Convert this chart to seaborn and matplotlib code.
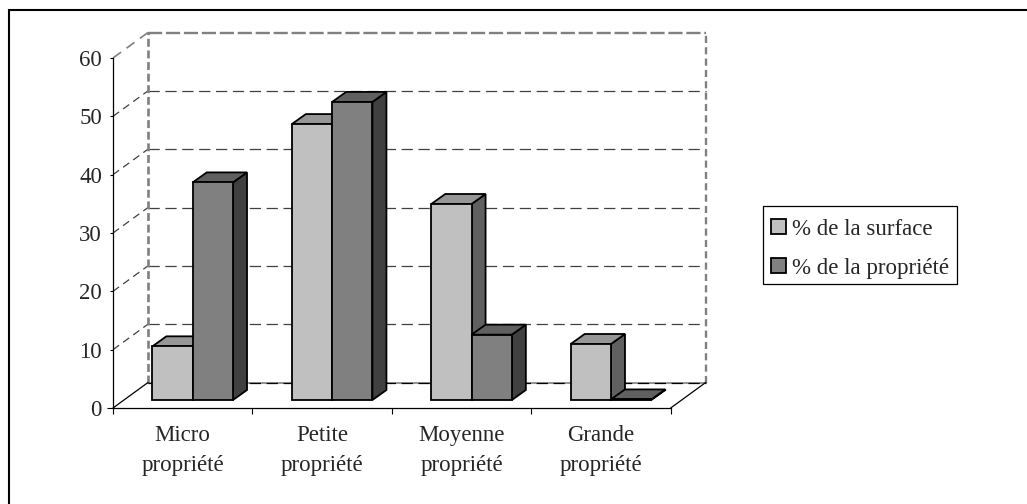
import matplotlib
matplotlib.use("Agg")
import matplotlib.pyplot as plt
from matplotlib.lines import Line2D
from matplotlib.patches import Polygon, Rectangle
import pandas as pd
import seaborn as sns

# Data
categories = ["Micro\npropriété", "Petite\npropriété", "Moyenne\npropriété", "Grande\npropriété"]
surface = [9.2, 47.3, 33.6, 9.6]
propriete = [37.3, 51.1, 11.2, 0.1]
series_names = ["% de la surface", "% de la propriété"]
y_ticks = [0, 10, 20, 30, 40, 50, 60]

W, H = 1027, 504
LEFT, RIGHT, BASE, TOP = 113, 670.7, 408, 58
FONT = 16.5
EDGE = 1.3

sns.set_style("white")
plt.rcParams["font.family"] = ["Liberation Serif", "DejaVu Serif"]
plt.rcParams["font.size"] = FONT

df = pd.DataFrame({
    "cat": categories * 2,
    "val": surface + propriete,
    "serie": [series_names[0]] * 4 + [series_names[1]] * 4,
})

fig = plt.figure(figsize=(W / 100, H / 100), dpi=100, facecolor="white")
ax = fig.add_axes([LEFT / W, (H - BASE) / H, (RIGHT - LEFT) / W, (BASE - TOP) / H])

sns.barplot(data=df, x="cat", y="val", hue="serie", palette=["#C0C0C0", "#808080"],
            width=0.578, gap=0, edgecolor="black", linewidth=EDGE, saturation=1,
            errorbar=None, ax=ax)

ax.set_xlim(-0.5, 3.5)
ax.set_ylim(0, 60)
ax.set_xlabel("")
ax.set_ylabel("")

# pixel sizes expressed in data units
px = 4 / (RIGHT - LEFT)
py = 60 / (BASE - TOP)
wall_dx, wall_dy = 35 * px, 25.5 * py
shift_x, shift_y = 10 * px, 8 * py
depth_x, depth_y = 14 * px, 10 * py

# back wall, grid lines and side wall dashes
x0, x1 = -0.5 + wall_dx, 3.5 + wall_dx
grid_dash = (0, (9, 4.5))
side_dash = (0, (6, 4))
for t in y_ticks[1:-1]:
    ax.plot([x0, x1], [t + wall_dy] * 2, color="#404040", lw=0.9, ls=grid_dash, zorder=1, clip_on=False)
    ax.plot([-0.5, x0], [t, t + wall_dy], color="#404040", lw=0.9, ls=side_dash, zorder=1, clip_on=False)
ax.plot([-0.5, x0], [60, 60 + wall_dy], color="#808080", lw=1.2, ls=side_dash, zorder=1, clip_on=False)
ax.plot([x0, x1], [60 + wall_dy] * 2, color="#808080", lw=1.7, ls=(0, (6, 1.6)), zorder=1, clip_on=False)
ax.plot([x0, x0], [wall_dy, 60 + wall_dy], color="#808080", lw=1.9, ls=(0, (3, 1.4)), zorder=1, clip_on=False)
ax.plot([x1, x1], [wall_dy, 60 + wall_dy], color="#808080", lw=1.7, ls=(0, (3, 1.8)), zorder=1, clip_on=False)

# floor
ax.plot([x0, x1], [wall_dy] * 2, color="#808080", lw=1.2, zorder=1, clip_on=False)
ax.plot([x0, x1], [wall_dy] * 2, color="black", lw=0.9, ls=grid_dash, zorder=1.1, clip_on=False)
ax.plot([-0.5, x0], [0, wall_dy], color="black", lw=0.9, zorder=1.2, clip_on=False)
ax.plot([3.5, x1], [0, wall_dy], color="black", lw=0.9, zorder=1.2, clip_on=False)

# bars get their top and side faces
top_colors = ["#969696", "#606060"]
side_colors = ["#606060", "#404040"]
for j, container in enumerate(ax.containers):
    for i, bar in enumerate(container):
        z = 3 + i * 2 + j * 0.5
        bar.set_x(bar.get_x() + shift_x)
        bar.set_y(shift_y)
        bar.set_zorder(z + 0.2)
        bar.set_clip_on(False)
        xa, xb = bar.get_x(), bar.get_x() + bar.get_width()
        ya, yb = bar.get_y(), bar.get_y() + bar.get_height()
        ax.add_patch(Polygon([(xb, ya), (xb + depth_x, ya + depth_y), (xb + depth_x, yb + depth_y), (xb, yb)],
                             facecolor=side_colors[j], edgecolor="black", lw=EDGE, joinstyle="miter",
                             zorder=z, clip_on=False))
        ax.add_patch(Polygon([(xa, yb), (xb, yb), (xb + depth_x, yb + depth_y), (xa + depth_x, yb + depth_y)],
                             facecolor=top_colors[j], edgecolor="black", lw=EDGE, joinstyle="miter",
                             zorder=z + 0.1, clip_on=False))

sns.despine(ax=ax)
for side in ["left", "bottom"]:
    ax.spines[side].set_color("black")
    ax.spines[side].set_linewidth(0.9)
    ax.spines[side].set_zorder(2)

ax.set_yticks(y_ticks)
ax.tick_params(axis="y", left=True, length=2, width=0.8, pad=6, labelsize=FONT, color="black")
ax.yaxis.get_major_ticks()[0].tick1line.set_markersize(4.5)
ax.set_xticks([-0.5, 0.5, 1.5, 2.5, 3.5], minor=True)
ax.tick_params(axis="x", which="major", bottom=False, pad=8.5, labelsize=FONT)
ax.tick_params(axis="x", which="minor", bottom=True, length=4.3, width=0.8, color="black")
for lab in ax.get_xticklabels():
    lab.set_linespacing(1.6)

# legend, its box is drawn apart so the rows can sit lower in it
handles, labels = ax.get_legend_handles_labels()
leg = ax.legend(handles, labels, loc="upper left", bbox_to_anchor=(762.7 / W, 1 - 210 / H),
                bbox_transform=fig.transFigure, borderaxespad=0, frameon=False,
                fontsize=FONT, handlelength=0.65, handleheight=0.65,
                handletextpad=0.26, labelspacing=0.78, borderpad=0.38, title=None)
fig.add_artist(Rectangle((762.7 / W, 1 - 284 / H), 194 / W, 78 / H, transform=fig.transFigure,
                         fill=False, edgecolor="black", lw=0.9))

# the chart frame only shows on the top and left
fig.add_artist(Line2D([8.5 / W, 8.5 / W, 1], [0, 1 - 10 / H, 1 - 10 / H], transform=fig.transFigure,
                      color="black", lw=1.5, solid_joinstyle="miter"))

plt.savefig("out.png", dpi=100, facecolor="white")
